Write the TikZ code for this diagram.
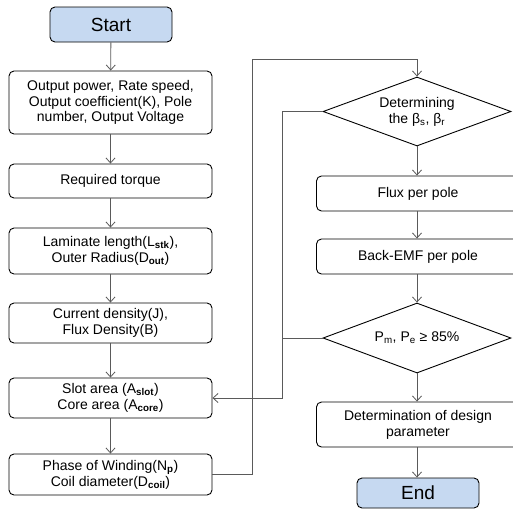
\documentclass[tikz,border=0pt]{standalone}
\usepackage{fontspec}
\setmainfont{Liberation Sans}
\usetikzlibrary{shapes.geometric,arrows.meta}
\definecolor{startblue}{RGB}{198,217,241}
\definecolor{linegray}{RGB}{90,90,90}
\tikzset{
  base/.style={draw=black, line width=0.9pt, rounded corners=5pt, align=center, inner sep=0pt,
    font=\fontsize{14}{15.8}\selectfont},
  term/.style={base, fill=startblue, minimum width=122pt, font=\fontsize{19}{21}\selectfont},
  procbox/.style={base, minimum width=203pt},
  decision/.style={diamond, draw=black, line width=0.9pt, aspect=2.7, inner sep=0pt, align=center,
    minimum width=188pt, minimum height=69pt, font=\fontsize{14}{15.8}\selectfont},
  arr/.style={draw=linegray, line width=0.8pt, -{Straight Barb[length=5pt,width=9pt]}},
  conn/.style={draw=linegray, line width=0.8pt},
}
\newcommand{\sbb}[1]{\textsubscript{\textbf{#1}}}
\begin{document}
\begin{tikzpicture}[x=1pt,y=-1pt]
\useasboundingbox (0,0) rectangle (513,512);
\clip (0,0) rectangle (513,512);
% left column
\node[term, minimum height=35pt] (start) at (111,24.5) {Start};
\node[procbox, minimum height=63pt] (b2) at (110.5,102.5) {Output power, Rate speed,\\Output coefficient(K), Pole\\number, Output Voltage};
\node[procbox, minimum height=34pt] (b3) at (110.5,181) {Required torque};
\node[procbox, minimum height=46pt] (b4) at (110.5,251) {Laminate length(L\sbb{stk}),\\Outer Radius(D\sbb{out})};
\node[procbox, minimum height=40pt] (b5) at (110.5,323) {Current density(J),\\Flux Density(B)};
\node[procbox, minimum height=40pt] (b6) at (110.5,398) {Slot area (A\sbb{slot})\\Core area (A\sbb{core})};
\node[procbox, minimum height=41pt] (b7) at (110.5,474.5) {Phase of Winding(N\sbb{p})\\Coil diameter(D\sbb{coil})};
% right column
\node[decision] (d1) at (417,111.5) {Determining\\the β\textsubscript{s}, β\textsubscript{r}};
\node[procbox, minimum height=35pt] (r1) at (418,193.5) {Flux per pole};
\node[procbox, minimum height=35pt] (r2) at (418,256.5) {Back-EMF per pole};
\node[decision, minimum height=70pt] (d2) at (417,338) {P\textsubscript{m}, P\textsubscript{e} ≥ 85\%};
\node[procbox, minimum height=45pt] (r3) at (418,424.5) {Determination of design\\parameter};
\node[term, minimum height=30pt] (end) at (418,493) {End};
% helper coordinates
\coordinate (looptop) at (252,59);
\coordinate (jn) at (282,398);
% connectors
\draw[arr] (start) -- (b2);
\draw[arr] (b2) -- (b3);
\draw[arr] (b3) -- (b4);
\draw[arr] (b4) -- (b5);
\draw[arr] (b5) -- (b6);
\draw[arr] (b6) -- (b7);
\draw[arr] (b7.east) -| (looptop) -| (d1.north);
\draw[arr] (d1.south) -- (r1.north -| d1.south);
\draw[arr] (r1.south -| d1.south) -- (r2.north -| d1.south);
\draw[arr] (r2.south -| d2.north) -- (d2.north);
\draw[arr] (d2.south) -- (r3.north -| d2.south);
\draw[arr] (r3.south -| d2.south) -- (end.north -| d2.south);
\draw[arr] (d1.west) -| (jn) -- (b6.east);
\draw[conn] (d2.west) -- (d2.west -| jn);
\end{tikzpicture}
\end{document}
